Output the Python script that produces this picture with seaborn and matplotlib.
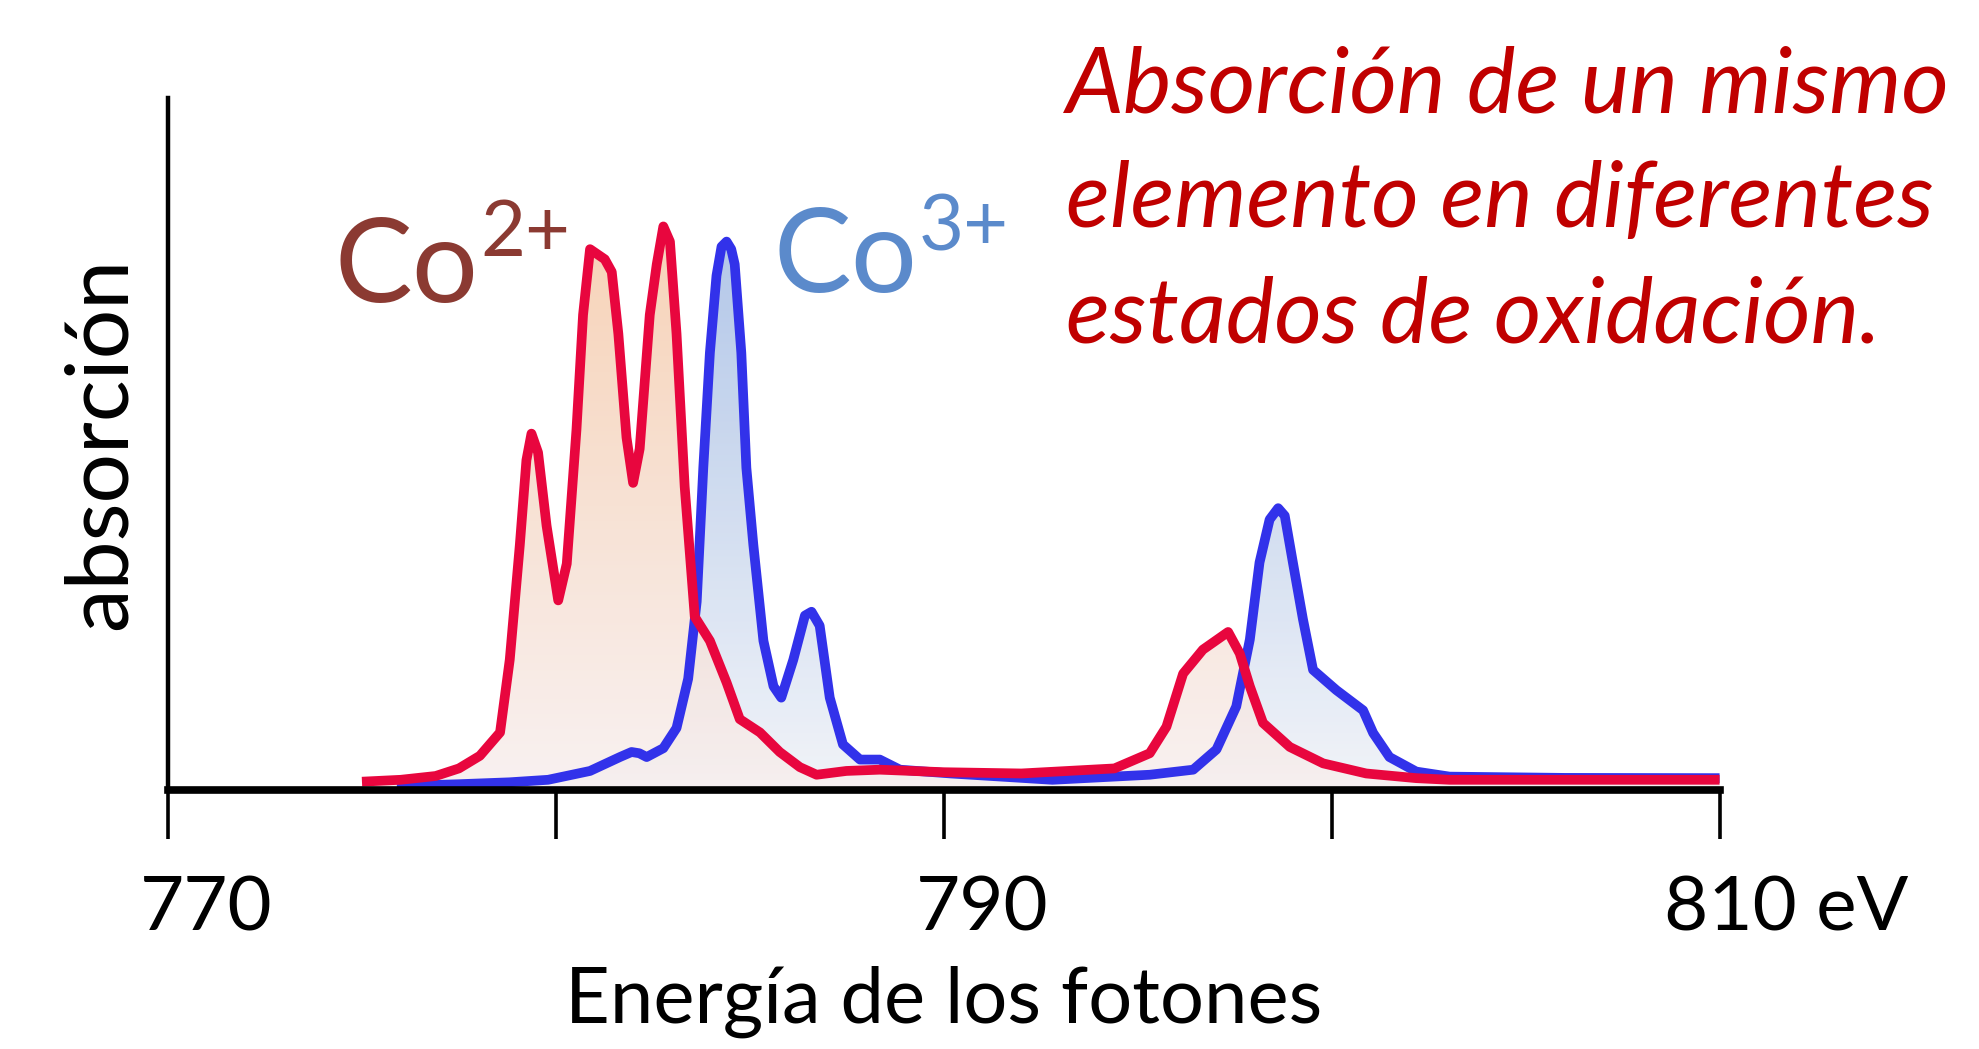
import numpy as np
import matplotlib
matplotlib.use('Agg')
import matplotlib.pyplot as plt
import matplotlib.transforms as mtransforms
from matplotlib.colors import LinearSegmentedColormap
import seaborn as sns

# Co2+ spectrum
co2_energy = [775.0, 776.0, 776.9, 777.5, 778.04, 778.56, 778.81, 779.07, 779.24, 779.37,
              779.54, 779.76, 780.06, 780.28, 780.53, 780.70, 780.88, 781.26, 781.44, 781.61,
              781.82, 781.99, 782.16, 782.42, 782.60, 782.77, 782.94, 783.11, 783.32, 783.58,
              783.97, 784.40, 784.74, 785.26, 785.77, 786.29, 786.72, 787.49, 788.35, 790.0,
              792.0, 794.4, 795.31, 795.74, 796.17, 796.68, 797.33, 797.63, 797.89, 798.23,
              798.92, 799.78, 800.89, 802.18, 803.04, 806.0, 810.0]
co2_abs = [0.065, 0.08, 0.11, 0.17, 0.27, 0.455, 1.03, 1.94, 2.61, 2.82,
           2.67, 2.09, 1.50, 1.79, 2.85, 3.76, 4.28, 4.20, 4.10, 3.61,
           2.79, 2.43, 2.70, 3.76, 4.16, 4.46, 4.34, 3.61, 2.40, 1.37,
           1.18, 0.85, 0.56, 0.455, 0.30, 0.18, 0.12, 0.15, 0.16, 0.14,
           0.13, 0.17, 0.29, 0.50, 0.92, 1.11, 1.25, 1.08, 0.82, 0.53,
           0.34, 0.21, 0.13, 0.093, 0.08, 0.08, 0.08]

# Co3+ spectrum
co3_energy = [775.9, 777.5, 778.8, 779.8, 780.88, 781.65, 781.95, 782.15, 782.34, 782.77,
              783.11, 783.41, 783.63, 783.80, 783.97, 784.14, 784.27, 784.40, 784.52, 784.61,
              784.78, 784.91, 785.09, 785.35, 785.61, 785.81, 786.12, 786.42, 786.59, 786.80,
              787.06, 787.40, 787.84, 788.35, 788.87, 790.18, 792.8, 795.31, 796.43, 797.03,
              797.54, 797.89, 798.14, 798.40, 798.62, 798.79, 799.00, 799.26, 799.52, 800.12,
              800.81, 801.07, 801.49, 802.18, 803.04, 806.0, 810.0]
co3_abs = [0.03, 0.045, 0.06, 0.08, 0.15, 0.26, 0.30, 0.29, 0.26, 0.33,
           0.49, 0.88, 1.49, 2.55, 3.46, 4.07, 4.30, 4.34, 4.28, 4.16,
           3.46, 2.55, 1.94, 1.18, 0.82, 0.73, 1.03, 1.38, 1.41, 1.30,
           0.73, 0.36, 0.24, 0.24, 0.16, 0.13, 0.08, 0.12, 0.16, 0.32,
           0.66, 1.19, 1.80, 2.14, 2.23, 2.17, 1.80, 1.35, 0.95, 0.79,
           0.63, 0.45, 0.26, 0.145, 0.105, 0.095, 0.093]

tick_values = [770, 780, 790, 800, 810]
tick_labels = ['770', '', '790', '', '810 eV']
note_lines = ['Absorción de un mismo', 'elemento en diferentes', 'estados de oxidación.']

sns.set_style('white')
plt.rcParams['font.family'] = ['Lato', 'DejaVu Sans']

YMAX = 5.48

fig = plt.figure(figsize=(19.79, 10.49), dpi=100)
ax = fig.add_axes([0.0849, 0.247, 0.784, 0.66])


def gradient_fill(ax, x, y, top, bottom, alpha):
    poly = ax.fill_between(x, y, 0, facecolor='none', edgecolor='none')
    cmap = LinearSegmentedColormap.from_list('g', [bottom, top])
    img = ax.imshow(np.linspace(0, 1, 256).reshape(-1, 1), cmap=cmap, aspect='auto',
                    extent=[770, 810, 0, 4.5], origin='lower', zorder=1, alpha=alpha)
    img.set_clip_path(poly.get_paths()[0], ax.transData)


gradient_fill(ax, co3_energy, co3_abs, '#a9c0e6', '#f0f3f8', 0.9)
gradient_fill(ax, co2_energy, co2_abs, '#f5c8a6', '#f8eeee', 0.8)

line_kw = dict(sort=False, ax=ax, linewidth=7, solid_joinstyle='round', solid_capstyle='butt')
sns.lineplot(x=co3_energy, y=co3_abs, color='#3232ea', zorder=3, **line_kw)
sns.lineplot(x=co2_energy, y=co2_abs, color='#e8063e', zorder=4, **line_kw)

ax.set_xlim(770, 810)
ax.set_ylim(0, YMAX)

for s in ['top', 'right']:
    ax.spines[s].set_visible(False)
ax.spines['bottom'].set_linewidth(5.5)
ax.spines['left'].set_linewidth(3.2)
ax.spines['bottom'].set_color('black')
ax.spines['left'].set_color('black')
ax.spines['bottom'].set_zorder(5)

ax.set_yticks([])
ax.set_xticks(tick_values)
ax.set_xticklabels(tick_labels)
ax.tick_params(axis='x', bottom=True, direction='out', length=35, width=2.6, pad=26,
               labelsize=55, colors='black')

for lab in ax.get_xticklabels():
    if lab.get_text() == '810 eV':
        lab.set_ha('left')
        off = mtransforms.ScaledTranslation(-0.56, 0, fig.dpi_scale_trans)
    else:
        off = mtransforms.ScaledTranslation(0.38, 0, fig.dpi_scale_trans)
    lab.set_transform(lab.get_transform() + off)

ax.set_xlabel('Energía de los fotones', fontsize=56, labelpad=16, color='black')
ax.set_ylabel('absorción', fontsize=63, labelpad=20, color='black')

# ion labels with superscript charge
co2 = ax.text(774.3, 3.86, 'Co', fontsize=84, color='#8b3a32', va='baseline', ha='left')
ax.annotate('2+', xy=(1, 1), xycoords=co2, xytext=(1, 13), textcoords='offset points',
            fontsize=56, color='#8b3a32', va='top', ha='left')
co3 = ax.text(785.6, 3.94, 'Co', fontsize=84, color='#5b8acb', va='baseline', ha='left')
ax.annotate('3+', xy=(1, 1), xycoords=co3, xytext=(1, 10), textcoords='offset points',
            fontsize=56, color='#5b8acb', va='top', ha='left')

for i, line in enumerate(note_lines):
    fig.text(0.5387, 0.893 - i * 0.1096, line, fontsize=66, style='italic',
             color='#c00000', va='baseline', ha='left')

fig.savefig('out.png', dpi=100)
